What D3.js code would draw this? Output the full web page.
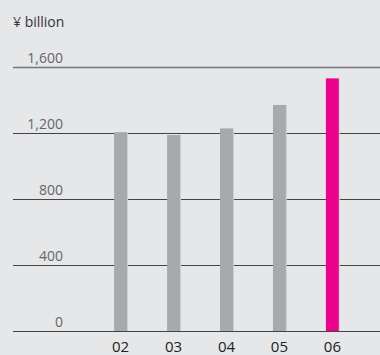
<!DOCTYPE html>
<html>
<head>
<meta charset="utf-8">
<script src="https://cdn.jsdelivr.net/npm/d3@7"></script>
<style>
  html, body { margin: 0; padding: 0; background: #e6e7e8; }
  svg { display: block; }
  text { font-family: "Open Sans", "Noto Sans", sans-serif; }
</style>
</head>
<body>
<svg id="chart" width="380" height="355"></svg>
<script>
// Net sales, ¥ billion, fiscal years 02–06
const years = ["02", "03", "04", "05", "06"];
const values = [1205, 1188, 1228, 1370, 1531];
const tickValues = [0, 400, 800, 1200, 1600];
const unitLabel = "¥ billion";

const svg = d3.select("#chart");
const width = 380, height = 355;

const y = d3.scaleLinear().domain([0, 1600]).range([331, 67]);
const x = d3.scaleBand().domain(years).range([94, 359]).paddingInner(0.755).paddingOuter(0.38);

// Unit label
svg.append("text")
  .attr("x", 13).attr("y", 27)
  .attr("font-size", 14).attr("fill", "#333")
  .text(unitLabel);

// Horizontal gridlines with labels sitting above them
const grid = svg.append("g");
grid.selectAll("line").data(tickValues).join("line")
  .attr("x1", 13).attr("x2", width)
  .attr("y1", d => Math.round(y(d)) + 0.5).attr("y2", d => Math.round(y(d)) + 0.5)
  .attr("stroke", d => d === 1600 ? "#777" : "#444")
  .attr("stroke-width", d => d === 1600 ? 1.3 : 1);

grid.selectAll("text").data(tickValues).join("text")
  .attr("x", 63).attr("y", d => y(d) - 4)
  .attr("text-anchor", "end")
  .attr("font-size", 14).attr("fill", "#666")
  .text(d => d3.format(",")(d));

// Bars
const barColor = (d, i) => i === years.length - 1 ? "#ec008c" : "#a7a9ac";
svg.append("g").selectAll("rect").data(values).join("rect")
  .attr("x", (d, i) => x(years[i]))
  .attr("y", d => y(d))
  .attr("width", x.bandwidth())
  .attr("height", d => y(0) - y(d))
  .attr("fill", barColor);

// Light right edge on each bar
svg.append("g").selectAll("rect").data(values).join("rect")
  .attr("x", (d, i) => x(years[i]) + x.bandwidth())
  .attr("y", d => y(d))
  .attr("width", 1)
  .attr("height", d => y(0) - y(d))
  .attr("fill", "#cdced0");

// Year labels
svg.append("g").selectAll("text").data(years).join("text")
  .attr("x", d => x(d) + x.bandwidth() / 2)
  .attr("y", 352)
  .attr("text-anchor", "middle")
  .attr("font-size", 15).attr("fill", "#222")
  .text(d => d);
</script>
</body>
</html>
